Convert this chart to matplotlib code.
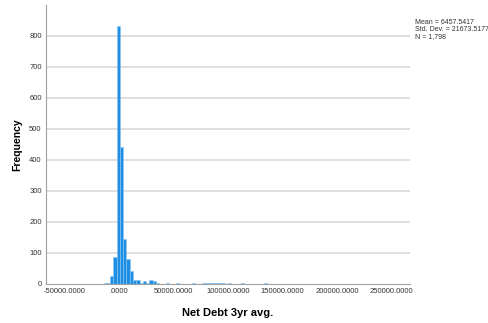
import matplotlib
matplotlib.use("Agg")
import matplotlib.pyplot as plt
import numpy as np

plt.rcParams['font.family'] = ['Liberation Sans', 'DejaVu Sans']

# bin edges start at -20000, width 3000
bin_start = -20000
bin_width = 3000
counts = [1, 1, 2, 3, 25, 86, 833, 440, 144, 79, 41, 14, 14, 4, 8, 3, 12, 11, 2,
          1, 0, 2, 1, 0, 2, 1, 1, 0, 1, 2, 1, 0, 2, 3, 2, 4, 3, 2, 3, 1, 2, 1,
          0, 1, 2, 1, 0, 1, 1, 0, 1, 2, 1, 0, 1, 1, 0, 1, 0, 0, 1, 0, 1, 0, 0,
          1, 0, 0, 1, 0, 0, 0, 1, 0, 0, 0, 0, 0, 1]
xticks = [-50000, 0, 50000, 100000, 150000, 200000, 250000]
xtick_labels = ['-50000.0000', '.0000', '50000.0000', '100000.0000',
                '150000.0000', '200000.0000', '250000.0000']
yticks = [0, 100, 200, 300, 400, 500, 600, 700, 800]
stats = "Mean = 6457.5417\nStd. Dev. = 21673.5177\nN = 1,798"

lefts = bin_start + bin_width * np.arange(len(counts))

fig = plt.figure(figsize=(4.88, 3.23), dpi=100)
ax = fig.add_axes([0.094, 0.121, 0.746, 0.864])

for y in yticks[1:]:
    ax.axhline(y, color='#dcdcdc', lw=1.3, zorder=0)

ax.bar(lefts, counts, width=bin_width, align='edge', color='#1e8fe4',
       edgecolor='#8cc6f2', linewidth=0.4, zorder=2)

ax.set_xlim(-66900, 267000)
ax.set_ylim(0, 900)
ax.set_xticks(xticks)
ax.set_xticklabels(xtick_labels)
ax.set_yticks(yticks)
ax.tick_params(length=0, labelsize=5.5, colors='#333333', pad=3)

for s in ['top', 'right']:
    ax.spines[s].set_visible(False)
for s in ['left', 'bottom']:
    ax.spines[s].set_color('#a0a0a0')
    ax.spines[s].set_linewidth(0.8)

ax.set_xlabel('Net Debt 3yr avg.', fontsize=8, fontweight='bold', labelpad=9)
ax.set_ylabel('Frequency', fontsize=7.5, fontweight='bold', labelpad=5)

fig.text(0.851, 0.94, stats, fontsize=5, va='top', ha='left',
         color='#333333', linespacing=1.0)

fig.savefig('out.png', dpi=100)
